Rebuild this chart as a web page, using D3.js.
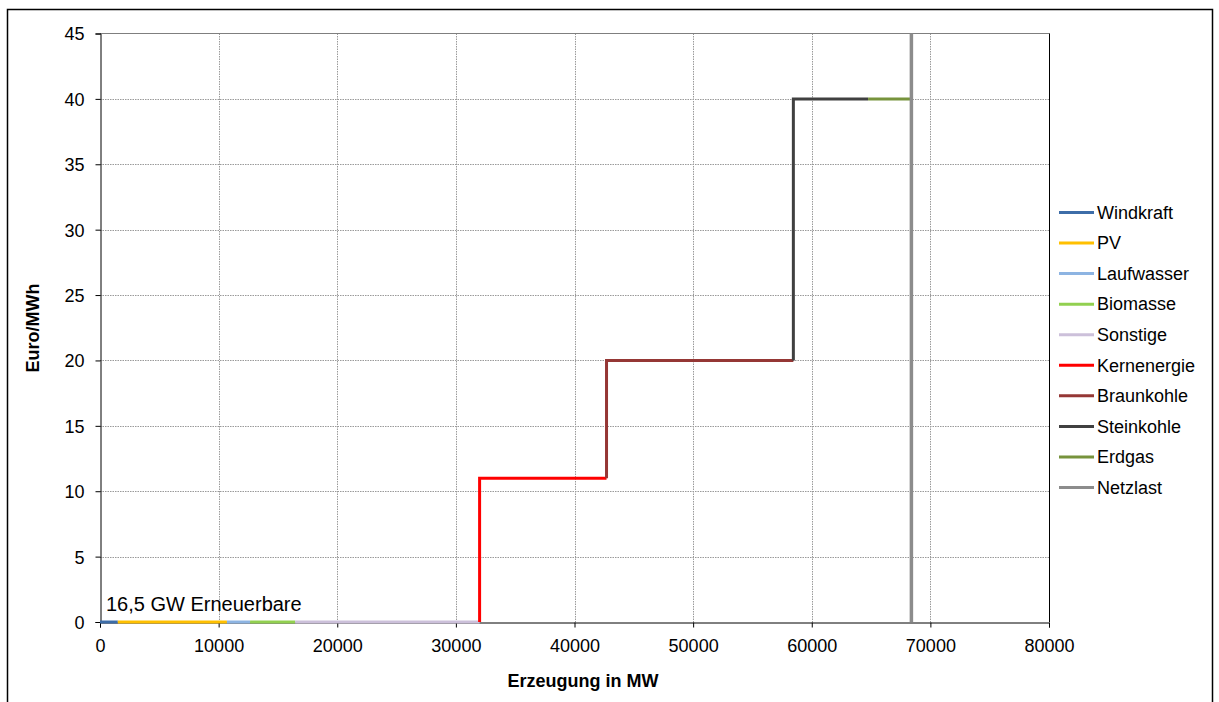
<!DOCTYPE html>
<html>
<head>
<meta charset="utf-8">
<script src="https://cdn.jsdelivr.net/npm/d3@7"></script>
<style>
  html, body { margin: 0; padding: 0; background: #fff; }
  svg { display: block; font-family: "Liberation Sans", Arial, sans-serif; }
</style>
</head>
<body>
<svg id="chart" width="1219" height="702"></svg>
<script>
// Merit order: generation technologies in dispatch order
const series = ["Windkraft", "PV", "Laufwasser", "Biomasse", "Sonstige",
                "Kernenergie", "Braunkohle", "Steinkohle", "Erdgas"];
// cumulative capacity (MW) at the end of each block
const cumulativeMW = [1500, 10700, 12650, 16450, 32000, 42700, 58450, 64750, 68400];
// marginal cost of each block (Euro/MWh)
const price = [0, 0, 0, 0, 0, 11, 20, 40, 40];
const colors = ["#3D6DA8", "#FFC000", "#8DB4E2", "#92D050", "#CCC0DA",
                "#FF0000", "#953735", "#404040", "#77933C"];
// grid load (MW)
const netzlast = 68400;
const netzlastColor = "#8C8C8C";

const xTicks = [0, 10000, 20000, 30000, 40000, 50000, 60000, 70000, 80000];
const yTicks = [0, 5, 10, 15, 20, 25, 30, 35, 40, 45];

const svg = d3.select("#chart");
const plotLeft = 100, plotRight = 1049, plotTop = 33.5, plotBottom = 622;
const fontSize = "18px";

const x = d3.scaleLinear().domain([0, 80000]).range([plotLeft, plotRight]);
const y = d3.scaleLinear().domain([0, 45]).range([plotBottom, plotTop]);

// outer chart frame
svg.append("rect")
  .attr("x", 7.5).attr("y", 9.5).attr("width", 1205).attr("height", 720)
  .attr("fill", "none").attr("stroke", "#000").attr("stroke-width", 1.5);

// gridlines
const grid = svg.append("g");
grid.selectAll(".hg").data(yTicks.slice(1, -1)).join("line")
  .attr("x1", plotLeft).attr("x2", plotRight)
  .attr("y1", d => Math.round(y(d)) + 0.5).attr("y2", d => Math.round(y(d)) + 0.5)
  .attr("stroke", "#9a9a9a").attr("stroke-dasharray", "1.5,1");
grid.selectAll(".vg").data(xTicks.slice(1, -1)).join("line")
  .attr("y1", plotTop).attr("y2", plotBottom)
  .attr("x1", d => Math.round(x(d)) + 0.5).attr("x2", d => Math.round(x(d)) + 0.5)
  .attr("stroke", "#9a9a9a").attr("stroke-dasharray", "1.5,1");

// plot area border (top and right)
svg.append("line").attr("x1", plotLeft).attr("x2", plotRight + 0.5).attr("y1", plotTop).attr("y2", plotTop)
  .attr("stroke", "#7f7f7f").attr("stroke-width", 1);
svg.append("line").attr("x1", plotRight + 0.5).attr("x2", plotRight + 0.5).attr("y1", plotTop).attr("y2", plotBottom)
  .attr("stroke", "#000").attr("stroke-width", 1);

// axes
const xAxis = d3.axisBottom(x).tickValues(xTicks).tickSize(5).tickPadding(12).tickFormat(d3.format("d"));
const yAxis = d3.axisLeft(y).tickValues(yTicks).tickSize(5).tickPadding(11).tickFormat(d3.format("d"));

const gx = svg.append("g").attr("transform", `translate(0,${plotBottom + 0.5})`).call(xAxis);
const gy = svg.append("g").attr("transform", `translate(${plotLeft + 0.5},0)`).call(yAxis);
[gx, gy].forEach(g => {
  g.select(".domain").attr("stroke", "#000");
  g.selectAll(".tick line").attr("stroke", "#000");
  g.selectAll("text").attr("fill", "#000").attr("font-size", fontSize)
    .attr("font-family", "'Liberation Sans', Arial, sans-serif");
});
gy.selectAll("text").attr("dy", "0.36em");

// axis titles
svg.append("text").attr("x", 583).attr("y", 687).attr("text-anchor", "middle")
  .attr("font-size", fontSize).attr("font-weight", "bold").text("Erzeugung in MW");
svg.append("text").attr("transform", "translate(39,328) rotate(-90)")
  .attr("text-anchor", "middle").attr("font-size", fontSize).attr("font-weight", "bold")
  .text("Euro/MWh");

// merit-order step segments
const line = d3.line().x(d => x(d[0])).y(d => y(d[1]));
const segs = series.map((name, i) => {
  const x0 = i === 0 ? 0 : cumulativeMW[i - 1];
  const p0 = i === 0 ? price[i] : price[i - 1];
  return { name, color: colors[i],
           pts: [[x0, p0], [x0, price[i]], [cumulativeMW[i], price[i]]] };
});
svg.append("g").selectAll("path").data(segs).join("path")
  .attr("d", d => line(d.pts))
  .attr("fill", "none").attr("stroke", d => d.color).attr("stroke-width", 3)
  .attr("stroke-linejoin", "miter").attr("stroke-linecap", "butt");

// grid load marker
svg.append("path")
  .attr("d", line([[netzlast, 0], [netzlast, 45]]))
  .attr("stroke", netzlastColor).attr("stroke-width", 3.5).attr("fill", "none");

// annotation
svg.append("text").attr("x", 106).attr("y", 611).attr("font-size", "20px")
  .text("16,5 GW Erneuerbare");

// legend
const legendItems = series.map((s, i) => ({ name: s, color: colors[i] }))
  .concat([{ name: "Netzlast", color: netzlastColor }]);
const lg = svg.append("g");
const rows = lg.selectAll("g").data(legendItems).join("g")
  .attr("transform", (d, i) => `translate(1059,${212.5 + i * 30.56})`);
rows.append("line").attr("x1", 0).attr("x2", 35).attr("y1", 0).attr("y2", 0)
  .attr("stroke", d => d.color).attr("stroke-width", 3);
rows.append("text").attr("x", 38).attr("y", 0).attr("dy", "0.35em")
  .attr("font-size", fontSize).text(d => d.name);
</script>
</body>
</html>
